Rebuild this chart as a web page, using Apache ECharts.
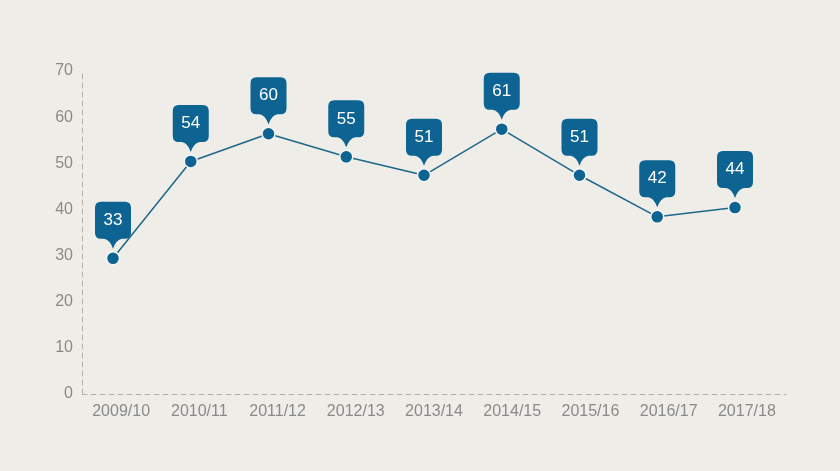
<!DOCTYPE html>
<html><head><meta charset="utf-8">
<script src="https://cdn.jsdelivr.net/npm/echarts@6/dist/echarts.min.js"></script>
<style>html,body{margin:0;padding:0;background:#efede8;}#c{width:840px;height:471px;}</style>
</head><body><div id="c"></div>
<script>
var categories = ['2009/10','2010/11','2011/12','2012/13','2013/14','2014/15','2015/16','2016/17','2017/18'];
var values = [33, 54, 60, 55, 51, 61, 51, 42, 44];
var yTicks = [0, 10, 20, 30, 40, 50, 60, 70];

var bubble = 'path://M6,0 H30 Q36,0 36,6 V31 Q36,37 30,37 H27 Q21,38 18,47 Q15,38 9,37 H6 Q0,37 0,31 V6 Q0,0 6,0 Z';
var txt = '#8a8a8a', ax = '#b0b0b0', blue = '#0d6391';

var chart = echarts.init(document.getElementById('c'), null, {renderer:'canvas'});
chart.setOption({
  backgroundColor: '#efede8',
  animation: false,
  grid: [
    {left: 82, right: 54, top: 71, bottom: 77},
    {left: 113, right: 105, top: 71, bottom: 77}
  ],
  xAxis: [
    {type:'category', gridIndex:0, data: categories, boundaryGap:true,
     axisLine:{show:true, lineStyle:{color:ax, type:[5,4], width:1}},
     axisTick:{show:false},
     axisLabel:{color:txt, fontSize:16, fontFamily:'Liberation Sans, Arial, sans-serif', margin:10}},
    {type:'category', gridIndex:1, data: categories, boundaryGap:false, show:false}
  ],
  yAxis: [
    {type:'value', gridIndex:0, min:yTicks[0], max:yTicks[yTicks.length-1], interval:10,
     axisLine:{show:true, lineStyle:{color:ax, type:[5,4], width:1}},
     axisTick:{show:false}, splitLine:{show:false},
     axisLabel:{color:txt, fontSize:16, fontFamily:'Liberation Sans, Arial, sans-serif', margin:9}},
    {type:'value', gridIndex:1, min:3.6, max:73.6, show:false, splitLine:{show:false}}
  ],
  series: [
    {type:'line', xAxisIndex:1, yAxisIndex:1, data: values,
     lineStyle:{color:'#1d6789', width:1.5},
     symbol:'circle', symbolSize:13,
     itemStyle:{color:blue, borderColor:'#f6f5f2', borderWidth:1.5},
     label:{show:false}, z:3},
    {type:'scatter', xAxisIndex:1, yAxisIndex:1, data: values,
     symbol: bubble, symbolSize:[36,47], symbolOffset:[0,-33],
     itemStyle:{color:blue, opacity:1},
     label:{show:true, position:'inside', offset:[0,-5], color:'#ffffff', fontSize:17,
            fontFamily:'Liberation Sans, Arial, sans-serif',
            formatter:function(p){return p.value;}}, z:4}
  ]
});
</script></body></html>
